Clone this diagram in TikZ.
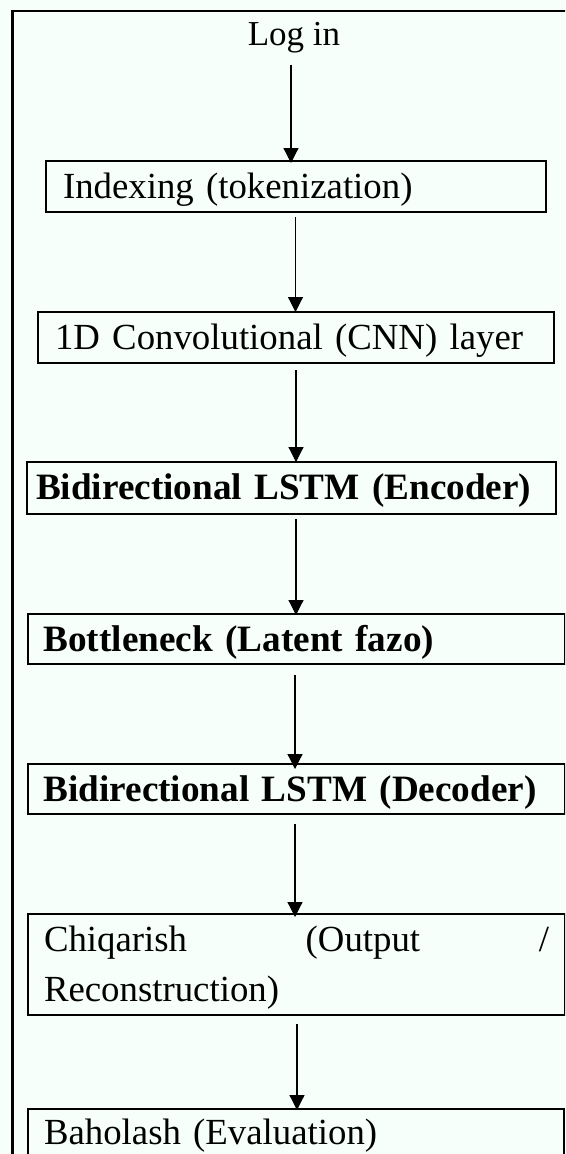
\documentclass[tikz,border=0pt]{standalone}
\usepackage{fontspec}
\setmainfont{Liberation Serif}
\usetikzlibrary{arrows.meta}
\definecolor{bgmint}{RGB}{246,255,250}
\tikzset{
  stepbox/.style={draw=black, line width=2pt, anchor=north west, align=left,
    inner ysep=0pt, text height=37pt, text depth=14pt,
    font=\fontsize{36.8}{50}\selectfont},
  boldbox/.style={stepbox, font=\fontsize{37.2}{50}\selectfont\bfseries},
  arr/.style={line width=1.2pt, -{Triangle[length=15pt,width=15pt]}},
  frame/.style={line width=2.2pt},
}
\begin{document}
\begin{tikzpicture}[x=1pt,y=-1pt]
\useasboundingbox (0,0) rectangle (565,1154);
\clip (0,0) rectangle (565,1154);
\fill[bgmint] (0,0) rectangle (565,1154);
\draw[frame] (12.5,1170) -- (12.5,11) -- (580,11);

\node[font=\fontsize{35}{42}\selectfont, anchor=base, inner sep=0pt] (login) at (294,45) {Log in};
\node[stepbox, inner xsep=17pt, text width=466pt] (b1) at (45,160) {Indexing (tokenization)};
\node[stepbox, inner xsep=17pt, text width=482pt] (b2) at (37,311) {1D Convolutional (CNN) layer};
\node[boldbox, inner xsep=9pt, text width=511pt, text depth=15pt] (b3) at (26,461) {Bidirectional LSTM (Encoder)};
\node[boldbox, inner xsep=15.5pt, text width=506pt, text depth=13pt] (b4) at (27,613) {Bottleneck (Latent fazo)};
\node[boldbox, inner xsep=15.5pt, text width=506pt, text depth=13pt] (b5) at (27,763) {Bidirectional LSTM (Decoder)};
\node[stepbox, inner xsep=16pt, text width=505pt, text depth=64pt] (b6) at (27,913) {Chiqarish\hfill (Output\hfill /\\Reconstruction)};
\node[stepbox, inner xsep=16pt, text width=504pt, text height=35pt, text depth=16pt] (b7) at (27,1108) {Baholash (Evaluation)};

\coordinate (c1) at (291,0);
\coordinate (c2) at (295.5,0);
\coordinate (c3) at (296,0);
\coordinate (c4) at (296,0);
\coordinate (c5) at (295,0);
\coordinate (c6) at (295,0);
\coordinate (c7) at (297,0);

\draw[arr, shorten <=12pt, shorten >=-3pt] (login.south -| c1) -- (b1.north -| c1);
\draw[arr, shorten <=4pt, shorten >=-1pt] (b1.south -| c2) -- (b2.north -| c2);
\draw[arr, shorten <=6pt, shorten >=-1pt] (b2.south -| c3) -- (b3.north -| c3);
\draw[arr, shorten <=4pt, shorten >=-2pt] (b3.south -| c4) -- (b4.north -| c4);
\draw[arr, shorten <=10pt, shorten >=-6pt] (b4.south -| c5) -- (b5.north -| c5);
\draw[arr, shorten <=9pt, shorten >=-4pt] (b5.south -| c6) -- (b6.north -| c6);
\draw[arr, shorten <=8pt, shorten >=-2pt] (b6.south -| c7) -- (b7.north -| c7);
\end{tikzpicture}
\end{document}
